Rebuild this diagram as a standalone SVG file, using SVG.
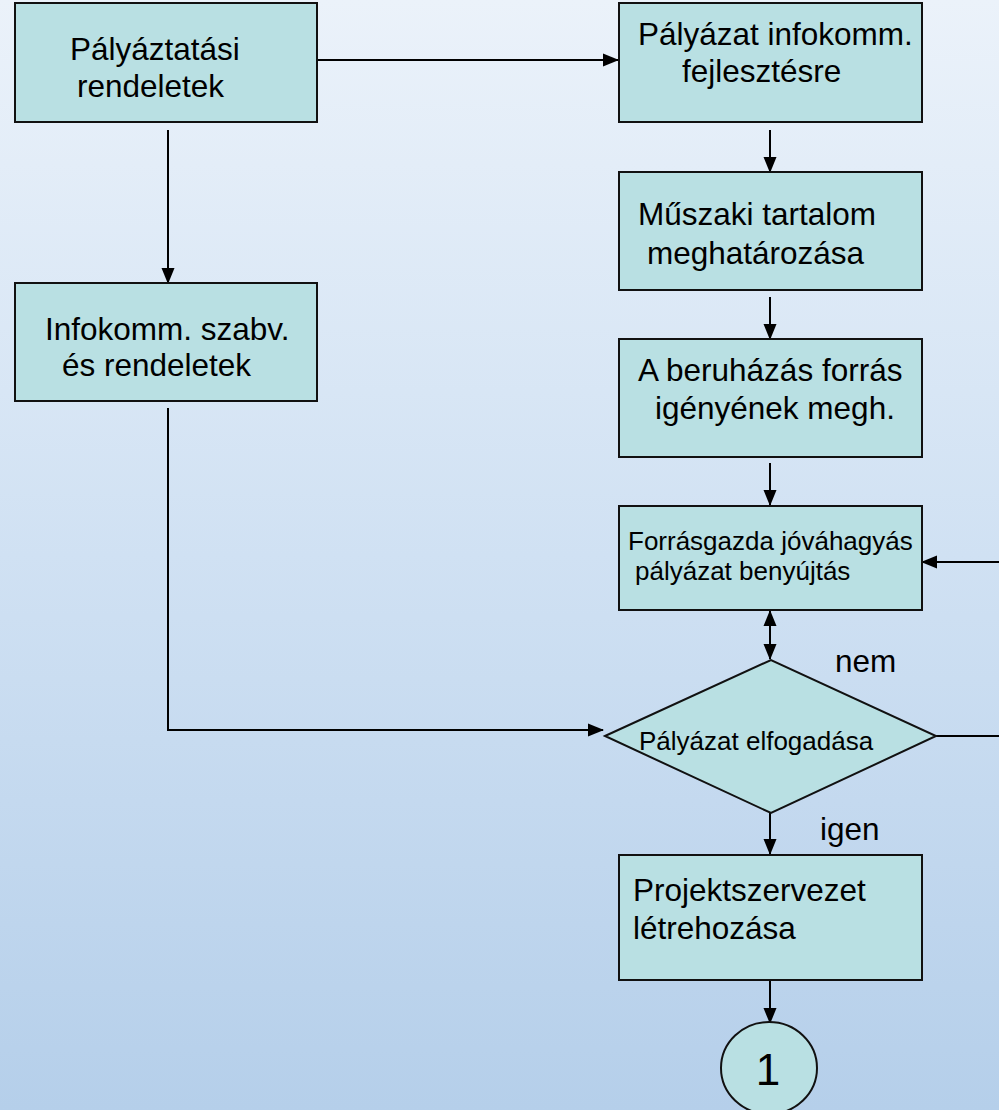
<svg xmlns="http://www.w3.org/2000/svg" width="999" height="1110" viewBox="0 0 999 1110">
<defs>
<linearGradient id="bg" x1="0" y1="0" x2="0" y2="1">
<stop offset="0" stop-color="#ebf2fa"/>
<stop offset="0.5" stop-color="#d0e1f3"/>
<stop offset="1" stop-color="#b5cfea"/>
</linearGradient>
<marker id="ah" markerUnits="userSpaceOnUse" markerWidth="16" markerHeight="14" refX="15" refY="7" orient="auto-start-reverse">
<path d="M0,0.5 L16,7 L0,13.5 Z" fill="#000"/>
</marker>
<style>
.box{fill:#b9e0e3;stroke:#111;stroke-width:2}
.t{font-family:"Liberation Sans",Arial,sans-serif;fill:#000;font-size:31.5px}
.s{font-size:26px}
.c{fill:none;stroke:#000;stroke-width:2}
</style>
</defs>
<rect x="0" y="0" width="999" height="1110" fill="url(#bg)"/>
<g id="connectors">
<line class="c" x1="317" y1="60" x2="618" y2="60" marker-end="url(#ah)"/>
<line class="c" x1="168" y1="130" x2="168" y2="283" marker-end="url(#ah)"/>
<line class="c" x1="770" y1="130" x2="770" y2="172" marker-end="url(#ah)"/>
<line class="c" x1="770" y1="297" x2="770" y2="339" marker-end="url(#ah)"/>
<line class="c" x1="770" y1="463" x2="770" y2="505" marker-end="url(#ah)"/>
<line class="c" x1="770" y1="611" x2="770" y2="659" marker-start="url(#ah)" marker-end="url(#ah)"/>
<line class="c" x1="770" y1="813" x2="770" y2="854" marker-end="url(#ah)"/>
<line class="c" x1="770" y1="981" x2="770" y2="1023" marker-end="url(#ah)"/>
<polyline class="c" points="168,408 168,730 603,730" marker-end="url(#ah)"/>
<line class="c" x1="936" y1="736" x2="1000" y2="736"/>
<line class="c" x1="1000" y1="562" x2="922" y2="562" marker-end="url(#ah)"/>
</g>
<g id="n1">
<rect class="box" x="15" y="3" width="302" height="119"/>
<text class="t" x="70" y="60">Pályáztatási</text>
<text class="t" x="77" y="97">rendeletek</text>
</g>
<g id="n2">
<rect class="box" x="619" y="3" width="303" height="119"/>
<text class="t" x="638" y="45">Pályázat infokomm.</text>
<text class="t" x="682" y="82">fejlesztésre</text>
</g>
<g id="n3">
<rect class="box" x="15" y="283" width="302" height="118"/>
<text class="t" x="45" y="340">Infokomm. szabv.</text>
<text class="t" x="62" y="376">és rendeletek</text>
</g>
<g id="n4">
<rect class="box" x="619" y="172" width="303" height="118"/>
<text class="t" x="638" y="225">Műszaki tartalom</text>
<text class="t" x="647" y="264">meghatározása</text>
</g>
<g id="n5">
<rect class="box" x="619" y="339" width="303" height="118"/>
<text class="t" x="638" y="381">A beruházás forrás</text>
<text class="t" x="655" y="419">igényének megh.</text>
</g>
<g id="n6">
<rect class="box" x="619" y="506" width="303" height="104"/>
<text class="t s" x="628" y="550">Forrásgazda jóváhagyás</text>
<text class="t s" x="635" y="580">pályázat benyújtás</text>
</g>
<g id="n7">
<polygon class="box" points="605,736 771,660 936,736 771,813"/>
<text class="t s" x="639" y="750">Pályázat elfogadása</text>
</g>
<g id="labels">
<text class="t" x="835" y="672">nem</text>
<text class="t" x="820" y="840">igen</text>
</g>
<g id="n8">
<rect class="box" x="619" y="855" width="303" height="125"/>
<text class="t" x="633" y="901">Projektszervezet</text>
<text class="t" x="633" y="939">létrehozása</text>
</g>
<g id="n9">
<ellipse class="box" cx="769" cy="1068" rx="48" ry="46"/>
<text class="t" x="768" y="1085" text-anchor="middle" style="font-size:44px">1</text>
</g>
</svg>
